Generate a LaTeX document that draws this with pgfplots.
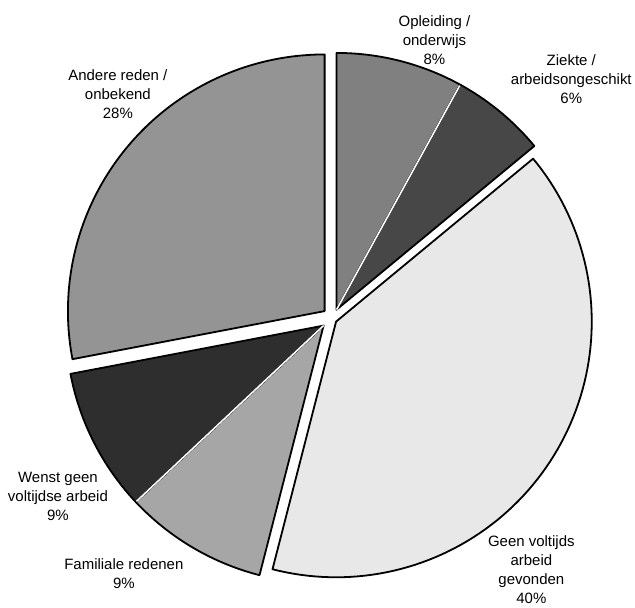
\documentclass[border=0pt]{standalone}
\usepackage{pgfplots}
\pgfplotsset{compat=1.18}
\usepackage{fontspec}
\setmainfont{Liberation Sans}
\begin{document}
\begin{tikzpicture}
% shares in percent, clockwise from the top
\def\pOpl{8}\def\pZie{6}\def\pGeen{40}\def\pFam{9}\def\pWen{9}\def\pAnd{28}
\pgfmathsetmacro\aA{90}
\pgfmathsetmacro\aB{\aA-3.6*\pOpl}
\pgfmathsetmacro\aC{\aB-3.6*\pZie}
\pgfmathsetmacro\aD{\aC-3.6*\pGeen}
\pgfmathsetmacro\aE{\aD-3.6*\pFam}
\pgfmathsetmacro\aF{\aE-3.6*\pWen}
\pgfmathsetmacro\aG{\aF-3.6*\pAnd}
\newcommand\slice[6]{% cx cy r a-low a-high fill
  \addplot[fill=#6, draw=black, line width=1.8pt, line join=round,
    domain=#4:#5, samples=90, variable=\t]
    ({#1+#3*cos(\t)}, {#2-#3*sin(\t)}) -- (axis cs:#1,#2) -- cycle;}
\newcommand\divider[4]{% cx cy r angle
  \addplot[white, line width=1.6pt, domain=0:#3, samples=2, variable=\t]
    ({#1+\t*cos(#4)}, {#2-\t*sin(#4)});}
\begin{axis}[width=635pt, height=607pt, scale only axis,
  xmin=0, xmax=635, ymin=0, ymax=607, y dir=reverse,
  axis line style={draw=none}, ticks=none, clip=false]
% group 1: Opleiding + Ziekte
\slice{337}{310}{257}{\aB}{\aA}{black!50}
\slice{337}{310}{257}{\aC}{\aB}{black!72}
\divider{337}{310}{256}{\aB}
% group 2: Geen voltijds arbeid gevonden
\slice{336.5}{322}{256}{\aD}{\aC}{black!9}
% group 3: Familiale + Wenst
\slice{324}{326}{258}{\aE}{\aD}{black!35}
\slice{324}{326}{258}{\aF}{\aE}{black!82}
\divider{324}{326}{257}{\aE}
% group 4: Andere
\slice{325}{311.5}{257}{\aG}{\aF}{black!42}
% labels
\begin{scope}[every node/.style={align=center, font=\fontsize{15}{19}\selectfont}]
\node at (axis cs:435,40.5) {Opleiding /\\onderwijs\\8\%};
\node at (axis cs:572,79) {Ziekte /\\arbeidsongeschikt\\6\%};
\node at (axis cs:118,94) {Andere reden /\\onbekend\\28\%};
\node at (axis cs:58,497) {Wenst geen\\voltijdse arbeid\\9\%};
\node at (axis cs:124,574.5) {Familiale redenen\\9\%};
\node at (axis cs:532,570.5) {Geen voltijds\\arbeid\\gevonden\\40\%};
\end{scope}
\end{axis}
\end{tikzpicture}
\end{document}
